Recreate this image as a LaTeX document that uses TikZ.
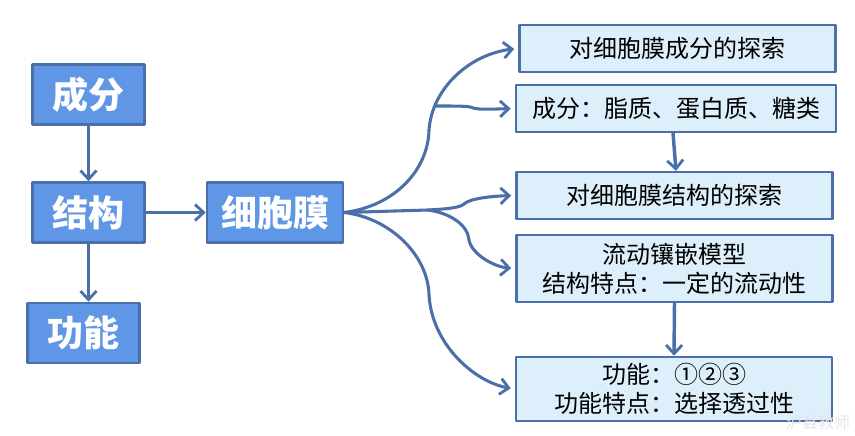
\documentclass[tikz,border=0pt]{standalone}
\usepackage{fontspec}
\setmainfont{Noto Sans CJK SC}
\usetikzlibrary{arrows.meta}
\definecolor{linkblue}{HTML}{4A6FA9}
\definecolor{headblue}{HTML}{5F96E6}
\definecolor{paleblue}{HTML}{DDEFFA}
\begin{document}
\begin{tikzpicture}[x=.75pt,y=-.75pt,join=round,>={Straight Barb[length=6.5pt,width=12pt,line width=2.1pt]}]
    \tikzstyle{headbox} = [draw=linkblue,fill=headblue,line width=1.9pt,text=white,
                           font=\bfseries\fontsize{27}{30}\selectfont,inner sep=0pt,
                           minimum width=84pt,minimum height=45pt]
    \tikzstyle{infobox} = [draw=linkblue,fill=paleblue,line width=1.9pt,align=center,
                           font=\fontsize{18}{22}\selectfont,inner sep=0pt,minimum width=237pt]
    \tikzstyle{link} = [draw=linkblue,line width=2.6pt,->]
    \tikzstyle{curve} = [link,line width=2.3pt,shorten >=3pt]

    \useasboundingbox (0,0) rectangle (855,435);

    % left column
    \node[headbox] (parts) at (88.5,94.5) {成分};
    \node[headbox] (struct) at (88.5,212.5) {结构};
    \node[headbox] (func) at (83.5,333) {功能};
    \node[headbox,minimum width=102pt] (membrane) at (275,212.5) {细胞膜};

    % right column
    \node[infobox,minimum height=35pt] (explore1) at (677.5,48.5) {对细胞膜成分的探索};
    \node[infobox,minimum height=35pt,minimum width=240pt] (comp) at (676,108.5) {成分：脂质、蛋白质、糖类};
    \node[infobox,minimum height=35pt] (explore2) at (674.5,195.5) {对细胞膜结构的探索};
    \node[infobox,minimum height=50pt] (model) at (674.5,268.5) {流动镶嵌模型\\结构特点：一定的流动性};
    \node[infobox,minimum height=48pt] (use) at (674,389) {功能：①②③\\功能特点：选择透过性};

    \node[text=black!10,font=\fontsize{12}{14}\selectfont,inner sep=0pt] (mark) at (818,422) {泸县教师};

    \coordinate (upper) at (435,106);
    \coordinate (fork) at (428,210);

    \draw[link] (parts) -- (struct);
    \draw[link] (struct.south) -- (func.north -| struct.south);
    \draw[link] (struct) -- (membrane);
    \draw[link] (comp.south -| 673,132) -- (explore2.north -| 676,172);
    \draw[link] (model.south) -- (use.north);

    \draw[curve] (membrane.east) .. controls (395,206) and (428,170) .. (429,130)
                 .. controls (432,88) and (470,54) .. (explore1.west);
    \draw[curve] (upper) .. controls (460,106) and (470,106) .. (473,108)
                 .. controls (480,110) and (495,109) .. (comp.west);
    \draw[curve] (membrane.east) -- (fork) .. controls (445,209) and (460,208) .. (464,204)
                 .. controls (470,198) and (495,196) .. (explore2.west);
    \draw[curve] (fork) .. controls (450,213) and (468,225) .. (469,240)
                 .. controls (472,255) and (495,267) .. (model.west);
    \draw[curve] (membrane.east) .. controls (390,218) and (428,255) .. (429,295)
                 .. controls (432,345) and (475,382) .. (use.west);
\end{tikzpicture}
\end{document}
